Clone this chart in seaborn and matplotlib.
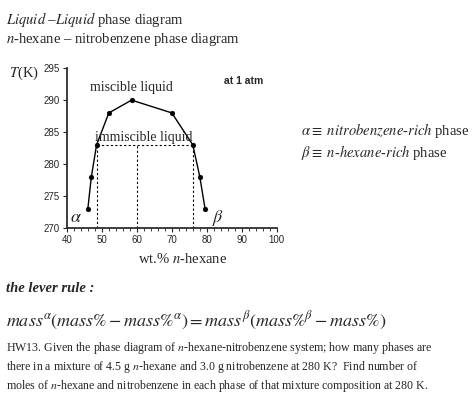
import matplotlib
matplotlib.use("Agg")
import matplotlib.pyplot as plt
import seaborn as sns
import pandas as pd
from matplotlib.ticker import MultipleLocator

sns.set_theme(style="ticks")
plt.rcParams['font.family'] = ['Liberation Serif', 'DejaVu Serif']
plt.rcParams['mathtext.fontset'] = 'stix'

# coexistence curve (wt.% n-hexane, T in K)
wt_hexane = [46, 47, 48.5, 52, 58.5, 70, 76, 78, 79.5]
temp_k = [273, 278, 283, 288, 290, 288, 283, 278, 273]
tie_T = 283
tie_left, tie_mid, tie_right = 48.5, 60, 76

df = pd.DataFrame({"x": wt_hexane, "T": temp_k})

fig = plt.figure(figsize=(4.74, 4.08), dpi=100)
ax = fig.add_axes([0.141, 0.441, 0.443, 0.392])
sns.lineplot(data=df, x="x", y="T", sort=False, color="black", lw=1, ax=ax)
sns.scatterplot(data=df, x="x", y="T", color="black", s=12, ax=ax, edgecolor="black")

ax.plot([tie_left, tie_right], [tie_T, tie_T], ls=(0, (2, 2)), color="black", lw=0.8)
for xv in (tie_left, tie_mid, tie_right):
    ax.plot([xv, xv], [270, tie_T], ls=(0, (2, 2)), color="black", lw=0.8)

ax.set_xlim(40, 100)
ax.set_ylim(270, 295)
ax.set_xticks(range(40, 101, 10))
ax.set_yticks(range(270, 296, 5))
ax.xaxis.set_minor_locator(MultipleLocator(2))
ax.tick_params(labelsize=7, length=3, width=0.8, direction="out", pad=2)
for lab in ax.get_xticklabels() + ax.get_yticklabels():
    lab.set_family("Liberation Sans")
ax.tick_params(which="minor", length=2, width=0.6)
sns.despine(ax=ax)
ax.set_xlabel("")
ax.set_ylabel("")

ax.text(58.5, 291.5, "miscible liquid", ha="center", fontsize=10)
ax.text(62, 283.6, "immiscible liquid", ha="center", fontsize=10)
ax.text(96, 292.5, "at 1 atm", ha="right", fontsize=7.5, weight="bold", family="Liberation Sans")
ax.text(41, 271, r"$\alpha$", fontsize=13)
ax.text(81.5, 271, r"$\beta$", fontsize=13)

fig.text(0.012, 0.975, r"$Liquid$ –$Liquid$ phase diagram", fontsize=10.5, va="top")
fig.text(0.012, 0.925, r"$n$-hexane – nitrobenzene phase diagram", fontsize=10.5, va="top")
fig.text(0.02, 0.82, r"$T$(K)", fontsize=10.5, va="center")
fig.text(0.385, 0.355, r"wt.% $n$-hexane", fontsize=10.5, ha="center")
fig.text(0.635, 0.67, r"$\alpha \equiv$ $nitrobenzene$-$rich$ phase", fontsize=10.5)
fig.text(0.635, 0.615, r"$\beta \equiv$ $n$-$hexane$-$rich$ phase", fontsize=10.5)
fig.text(0.012, 0.285, "the lever rule :", style="italic", weight="bold", fontsize=10.5)
fig.text(0.012, 0.2,
         r"$mass^{\alpha}(mass\% - mass\%^{\alpha}) = mass^{\beta}(mass\%^{\beta} - mass\%)$",
         fontsize=13)
fig.text(0.012, 0.1,
         "HW13. Given the phase diagram of $n$-hexane-nitrobenzene system; how many phases are\n"
         "there in a mixture of 4.5 g $n$-hexane and 3.0 g nitrobenzene at 280 K?  Find number of\n"
         "moles of $n$-hexane and nitrobenzene in each phase of that mixture composition at 280 K.",
         fontsize=8.6, va="center", linespacing=1.3)

fig.savefig("out.png", dpi=100)
